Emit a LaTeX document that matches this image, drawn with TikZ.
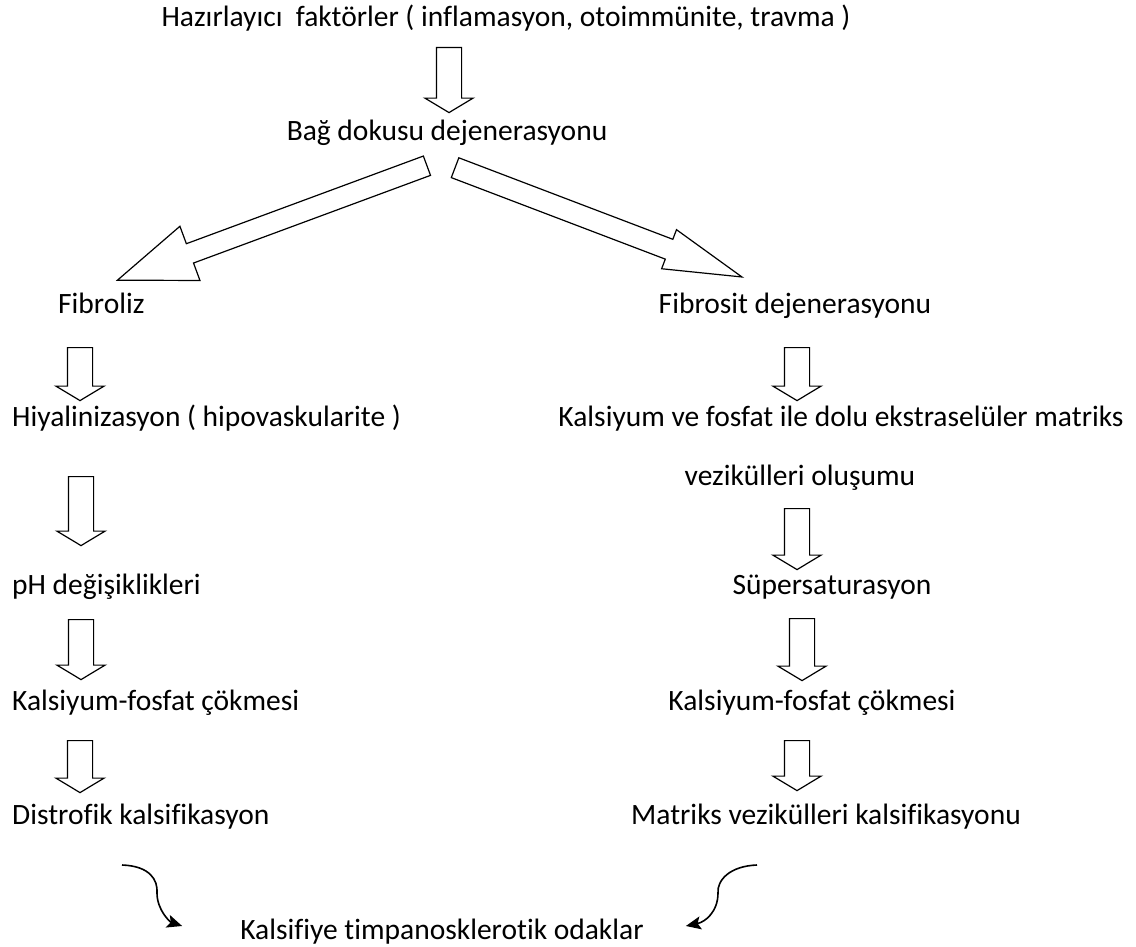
\documentclass[tikz,border=0pt]{standalone}
\usepackage{fontspec}
\setmainfont{Carlito}[Ligatures=CommonOff]
\usepackage{tikz}
\usetikzlibrary{shapes.arrows, arrows.meta}

\begin{document}
\begin{tikzpicture}[x=1pt, y=-1pt,
    lbl/.style={inner sep=0pt, font=\fontsize{29.5}{35}\selectfont, text=black},
    downarrow/.style={single arrow, draw=black, line width=1.2pt, rotate=-90, anchor=tail, inner sep=0pt, inner ysep=12pt, minimum width=0pt, single arrow head extend=11.5pt, single arrow tip angle=118},
    bigarrow/.style={single arrow, draw=black, line width=1.2pt, anchor=tail, inner sep=0pt, minimum width=0pt},
    curvearrow/.style={-{Stealth[length=15pt, width=13pt, inset=3pt]}, line width=1.6pt, black}
]
    \useasboundingbox (0,0) rectangle (1136,947);

    % Nodes
    \node (hazir) [lbl, anchor=base] at (506,27) {Hazırlayıcı~ faktörler ( inflamasyon, otoimmünite, travma )};
    \node (bag) [lbl, anchor=base] at (447,141) {Bağ dokusu dejenerasyonu};
    \node (fibroliz) [lbl, anchor=base west] at (58,313) {Fibroliz};
    \node (fibrosit) [lbl, anchor=base] at (795,313) {Fibrosit dejenerasyonu};
    \node (hiyalin) [lbl, anchor=base west] at (12,426) {Hiyalinizasyon ( hipovaskularite )};
    \node (kalsfos) [lbl, anchor=base] at (841,426) {Kalsiyum ve fosfat ile dolu ekstraselüler matriks};
    \node (vezikul) [lbl, anchor=base] at (800,485) {vezikülleri oluşumu};
    \node (ph) [lbl, anchor=base west] at (12,594) {pH değişiklikleri};
    \node (super) [lbl, anchor=base] at (832,594) {Süpersaturasyon};
    \node (cokmeL) [lbl, anchor=base west] at (12,710) {Kalsiyum-fosfat çökmesi};
    \node (cokmeR) [lbl, anchor=base] at (812,710) {Kalsiyum-fosfat çökmesi};
    \node (distrofik) [lbl, anchor=base west] at (12,824) {Distrofik kalsifikasyon};
    \node (matriks) [lbl, anchor=base] at (826,824) {Matriks vezikülleri kalsifikasyonu};
    \node (odak) [lbl, anchor=base] at (442,939) {Kalsifiye timpanosklerotik odaklar};

    % Block arrows
    \node (ok0) [downarrow, minimum height=65pt] at (449,47) {};
    \node (okL) [bigarrow, rotate=-159.7, minimum height=330pt, inner ysep=9.7pt, single arrow head extend=18.6pt, single arrow tip angle=41] at (427.5,165.5) {};
    \node (okR) [bigarrow, rotate=-20.85, minimum height=307pt, inner ysep=10pt, single arrow head extend=10.3pt, single arrow tip angle=30] at (454.5,167.5) {};

    \node (ok1) [downarrow, minimum height=53pt] at (80,347) {};
    \node (ok2) [downarrow, minimum height=69pt] at (81,476) {};
    \node (ok3) [downarrow, minimum height=60pt] at (81,619) {};
    \node (ok4) [downarrow, minimum height=52pt] at (80,740) {};

    \node (ok5) [downarrow, minimum height=53pt] at (797,347) {};
    \node (ok6) [downarrow, minimum height=61pt] at (797,508) {};
    \node (ok7) [downarrow, minimum height=62pt] at (802,618) {};
    \node (ok8) [downarrow, minimum height=50pt] at (797,740) {};

    % Curved arrows
    \coordinate (solbas) at (122,865);
    \coordinate (sagbas) at (757,865);
    \draw [curvearrow] (solbas) .. controls (150,866) and (158,880) .. (157,893)
        .. controls (157,910) and (170,922) .. ([xshift=-58pt, yshift=13pt]odak.base west);
    \draw [curvearrow] (sagbas) .. controls (730,866) and (717,880) .. (718,893)
        .. controls (718,912) and (705,922) .. ([xshift=42pt, yshift=13pt]odak.base east);
\end{tikzpicture}
\end{document}
